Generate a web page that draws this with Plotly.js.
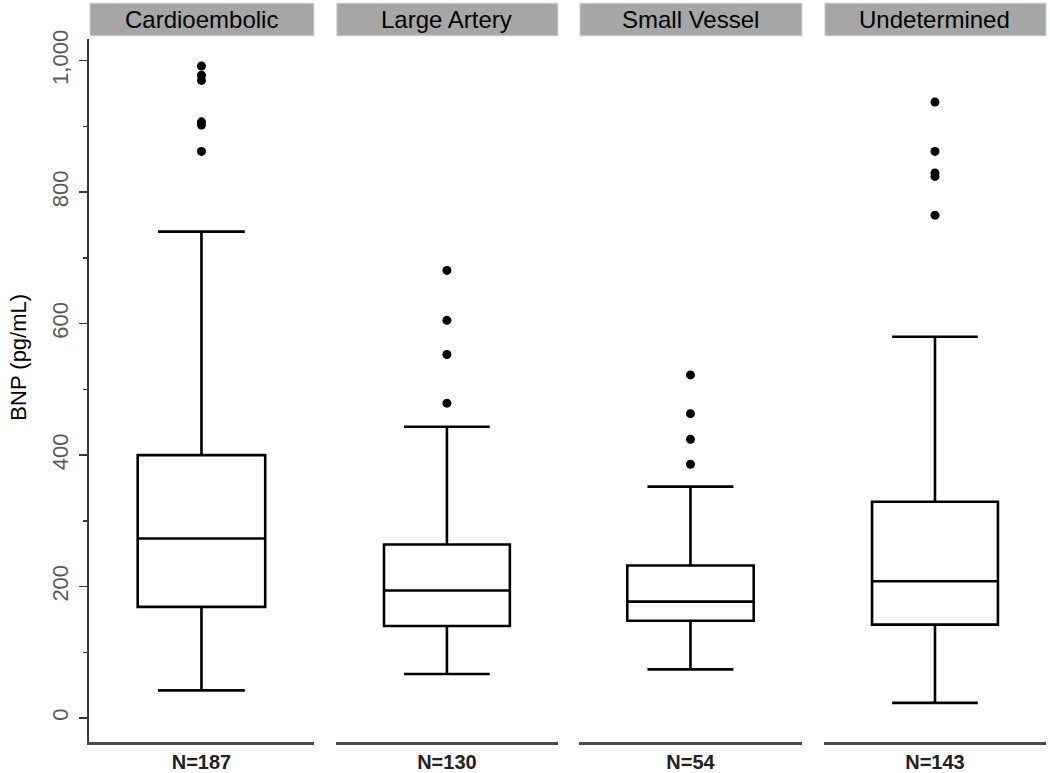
<!DOCTYPE html>
<html>
<head>
<meta charset="utf-8">
<script src="https://cdn.plot.ly/plotly-3.0.1.min.js"></script>
<style>html,body{margin:0;padding:0;background:#fff;}#chart{width:1050px;height:773px;}</style>
</head>
<body>
<div id="chart"></div>
<script>
const categories = ["Cardioembolic", "Large Artery", "Small Vessel", "Undetermined"];
const nLabels = ["N=187", "N=130", "N=54", "N=143"];
const lowerWhisker = [42, 67, 74, 23];
const q1Values = [169, 140, 148, 142];
const medianValues = [273, 194, 177, 208];
const q3Values = [400, 264, 232, 329];
const upperWhisker = [740, 443, 352, 580];
const outliers = [
  [992, 978, 970, 907, 902, 862],
  [681, 605, 553, 479],
  [522, 463, 424, 386],
  [937, 862, 829, 824, 765]
];

const domains = [[0, 0.235], [0.258, 0.490], [0.512, 0.745], [0.768, 1.0]];
const axisIds = ["x", "x2", "x3", "x4"];

const traces = [];
const layout = {
  width: 1050, height: 773,
  margin: {l: 89, r: 4, t: 39, b: 31},
  paper_bgcolor: "#ffffff", plot_bgcolor: "#ffffff",
  showlegend: false,
  font: {family: "Liberation Sans, Arial, sans-serif", color: "#000"},
  yaxis: {
    range: [-36.5, 1033],
    showgrid: false, zeroline: false,
    showline: true, linecolor: "#3a3a3a", linewidth: 2,
    ticks: "outside", ticklen: 8, tickwidth: 1.5, tickcolor: "#3a3a3a",
    tickvals: [0, 200, 400, 600, 800, 1000],
    tickformat: ",d",
    tickangle: -90,
    ticklabelstandoff: 2,
    tickfont: {size: 22, color: "#5a5a5a", family: "Liberation Sans, Arial, sans-serif"},
    minor: {tickvals: [100, 300, 500, 700, 900], ticks: "outside", ticklen: 4, tickwidth: 1.5, tickcolor: "#3a3a3a"}
  },
  shapes: [],
  annotations: [{
    xref: "paper", yref: "paper",
    x: -0.074, y: 0.547,
    xanchor: "center", yanchor: "middle",
    textangle: -90,
    text: "BNP (pg/mL)", showarrow: false,
    font: {size: 22, color: "#000", family: "Liberation Sans, Arial, sans-serif"}
  }]
};

categories.forEach((cat, i) => {
  const xa = axisIds[i];
  const axKey = i === 0 ? "xaxis" : "xaxis" + (i + 1);
  traces.push({
    type: "box",
    xaxis: xa, yaxis: "y",
    x: [0],
    q1: [q1Values[i]], median: [medianValues[i]], q3: [q3Values[i]],
    lowerfence: [lowerWhisker[i]], upperfence: [upperWhisker[i]],
    width: 0.567,
    whiskerwidth: 0.68,
    fillcolor: "rgba(255,255,255,0)",
    line: {color: "#000000", width: 2.6},
    boxpoints: false,
    hoverinfo: "skip",
    name: cat
  });
  traces.push({
    type: "scatter", mode: "markers",
    xaxis: xa, yaxis: "y",
    x: outliers[i].map(() => 0),
    y: outliers[i],
    marker: {color: "#000000", size: 9},
    hoverinfo: "skip"
  });
  layout[axKey] = {
    domain: domains[i],
    anchor: "y",
    range: [-0.5, 0.5],
    showgrid: false, zeroline: false,
    showline: true, linecolor: "#4a4a4a", linewidth: 2.5,
    ticks: "",
    tickvals: [0], ticktext: [nLabels[i]],
    ticklabelstandoff: 0,
    tickfont: {size: 20, color: "#222", family: "Liberation Sans, Arial, sans-serif", weight: "bold"},
    fixedrange: true
  };
  layout.shapes.push({
    type: "rect", xref: "paper", yref: "paper",
    x0: domains[i][0] + 0.001, x1: domains[i][1],
    y0: 1.0045, y1: 1.051,
    fillcolor: "#a6a6a6", line: {color: "#c8d4d4", width: 1}, layer: "above"
  });
  layout.annotations.push({
    xref: "paper", yref: "paper",
    x: (domains[i][0] + domains[i][1]) / 2, y: 1.028,
    xanchor: "center", yanchor: "middle",
    text: cat, showarrow: false,
    font: {size: 24, color: "#000", family: "Liberation Sans, Arial, sans-serif"}
  });
});

Plotly.newPlot("chart", traces, layout, {displayModeBar: false, staticPlot: true});
</script>
</body>
</html>
